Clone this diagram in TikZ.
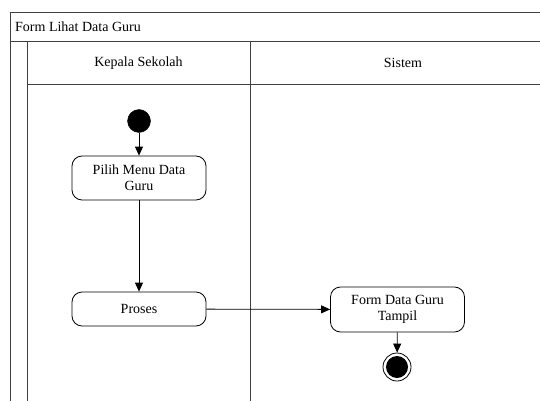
\documentclass[tikz,border=0pt]{standalone}
\usepackage{fontspec}
\setmainfont{Liberation Serif}
\usepackage{tikz}
\usetikzlibrary{arrows.meta}
\tikzstyle{lane}=[draw=black!75, line width=0.9pt]
\tikzstyle{label}=[inner sep=0pt, font=\fontsize{14}{16}\selectfont]
\tikzstyle{action}=[draw, rounded corners=10pt, align=center, minimum width=134pt, font=\fontsize{14}{16}\selectfont, line width=0.8pt]
\tikzstyle{start}=[draw, circle, fill=black, inner sep=0pt, minimum size=23pt]
\tikzstyle{stopout}=[draw, circle, fill=white, inner sep=0pt, minimum size=28pt, line width=0.8pt]
\tikzstyle{stopin}=[circle, fill=black, inner sep=0pt, minimum size=22pt]
\tikzstyle{flow}=[-{Triangle[length=9pt, width=8pt]}, line width=0.8pt]

\begin{document}
\begin{tikzpicture}[x=1pt, y=-1pt]
        \useasboundingbox (0, 0) rectangle (540, 401);
        \draw[lane] (540, 12) -- (10, 12) -- (10, 401);
        \draw[lane] (10, 41) -- (540, 41);
        \draw[lane] (27, 41) -- (27, 401);
        \draw[lane] (27, 84) -- (540, 84);
        \draw[lane] (250, 41) -- (250, 401);
        \node[label, anchor=west] (T)  at (15, 27) {Form Lihat Data Guru};
        \node[label]              (L1) at (138.5, 63) {Kepala Sekolah};
        \node[label]              (L2) at (403, 63) {Sistem};
        \node[start]              (S)  at (139, 121) {};
        \node[action, minimum height=44pt] (A1) at (139, 178) {Pilih Menu Data\\Guru};
        \node[action, minimum height=34pt] (A2) at (139, 309) {Proses};
        \node[action, minimum height=45pt] (A3) at (397.5, 309.5) {Form Data Guru\\Tampil};
        \node[stopout]            (E)  at (397, 367) {};
        \node[stopin]             (Ein) at (E) {};
        \draw[flow] (S) -- (A1);
        \draw[flow] (A1) -- (A2);
        \draw[flow] (A2) -- (A3);
        \draw[flow] (A3) -- (E);
    \end{tikzpicture}
\end{document}
